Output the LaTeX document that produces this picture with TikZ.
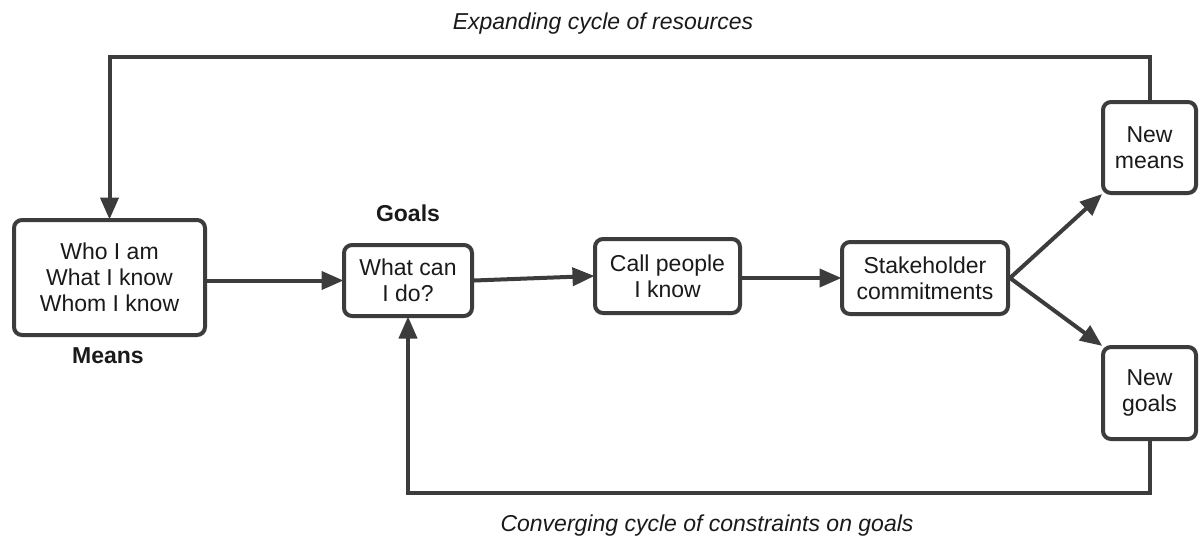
\documentclass[tikz,border=0pt]{standalone}
\usepackage{fontspec}
\setmainfont{Liberation Sans}
\usetikzlibrary{arrows.meta,calc}
\definecolor{ln}{HTML}{3C3C3C}
\definecolor{tx}{HTML}{1A1A1A}
\begin{document}
\begin{tikzpicture}[x=1pt,y=-1pt,
  box/.style={draw=ln,line width=4pt,rounded corners=8pt,fill=white,align=center,inner sep=0pt,text=tx,font=\fontsize{23}{26}\selectfont},
  conn/.style={draw=ln,line width=4pt,-{Triangle[length=22pt,width=18pt]},shorten >=-1.5pt},
  lbl/.style={text=tx,font=\fontsize{23}{26}\selectfont\bfseries},
  captext/.style={text=tx,font=\fontsize{23}{26}\selectfont\itshape}]
\useasboundingbox (0,0) rectangle (1202,542);
\fill[white] (0,0) rectangle (1202,542);
\node[box,minimum width=191pt,minimum height=115pt] (means) at (109.5,277.5) {Who I am\\What I know\\Whom I know};
\node[box,minimum width=128pt,minimum height=71pt] (what) at (408,280.5) {What can\\I do?};
\node[box,minimum width=145pt,minimum height=74pt] (call) at (667.5,276) {Call people\\I know};
\node[box,minimum width=166pt,minimum height=72pt] (stake) at (925,278) {Stakeholder\\commitments};
\node[box,minimum width=93pt,minimum height=91pt] (nm) at (1149.5,147.5) {New\\means};
\node[box,minimum width=93pt,minimum height=92pt] (ng) at (1149.5,393) {New\\goals};
\node[lbl] (goalslbl) at (408,213) {Goals};
\node[lbl] (meanslbl) at (108,356) {Means};
\node[captext] (exp) at (603,24) {Expanding cycle of resources};
\node[captext] (conv) at (707,526) {Converging cycle of constraints on goals};
\coordinate (top) at (0,57);
\coordinate (bot) at (0,493);
\draw[conn] (means.east |- what) -- (what.west);
\draw[conn] (what.east) -- (call.west);
\draw[conn] (call.east |- stake) -- (stake.west);
\draw[conn] (stake.east) -- (nm.south west);
\draw[conn] (stake.east) -- (ng.north west);
\draw[conn] (nm.north) -- (nm.north |- top) -| (means.north);
\draw[conn] (ng.south) -- (ng.south |- bot) -| (what.south);
\end{tikzpicture}
\end{document}
